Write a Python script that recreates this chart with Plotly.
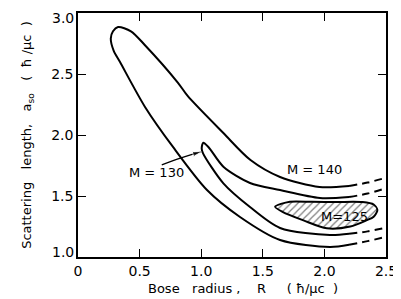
import plotly.graph_objects as go

# ---- data ----
# M = 140 contour (solid part): upper branch from right to tip, then lower branch back to right
m140_x = [2.20, 1.96, 1.64, 1.40, 1.18, 0.89, 0.81, 0.54, 0.43, 0.325, 0.284, 0.266, 0.29, 0.34, 0.544, 0.771, 1.047, 1.315, 1.64, 2.045, 2.20]
m140_y = [1.582, 1.574, 1.656, 1.795, 2.016, 2.32, 2.43, 2.74, 2.85, 2.885, 2.85, 2.79, 2.69, 2.60, 2.23, 1.902, 1.549, 1.328, 1.139, 1.082, 1.10]
# dashed extrapolations of M = 140
m140_up_dash_x = [2.20, 2.35, 2.50]
m140_up_dash_y = [1.582, 1.61, 1.65]
m140_lo_dash_x = [2.20, 2.35, 2.50]
m140_lo_dash_y = [1.10, 1.13, 1.165]

# M = 130 contour (solid part)
m130_x = [2.20, 1.964, 1.64, 1.396, 1.18, 1.06, 1.017, 1.004, 1.015, 1.18, 1.396, 1.64, 2.045, 2.20]
m130_y = [1.492, 1.484, 1.549, 1.607, 1.74, 1.90, 1.937, 1.89, 1.85, 1.604, 1.41, 1.238, 1.18, 1.19]
m130_up_dash_x = [2.20, 2.35, 2.50]
m130_up_dash_y = [1.492, 1.52, 1.565]
m130_lo_dash_x = [2.20, 2.35, 2.50]
m130_lo_dash_y = [1.19, 1.21, 1.24]

# M = 125 closed (hatched) region
m125_x = [1.60, 1.72, 1.90, 2.10, 2.31, 2.40, 2.43, 2.40, 2.34, 2.21, 2.02, 1.83, 1.66, 1.60]
m125_y = [1.412, 1.453, 1.452, 1.451, 1.45, 1.43, 1.385, 1.33, 1.30, 1.25, 1.235, 1.30, 1.37, 1.412]

# pointer from the "M = 130" label to its contour
arrow_x = [0.68, 0.80, 0.92, 1.0]
arrow_y = [1.755, 1.80, 1.84, 1.862]

x_ticks = [0, 0.5, 1.0, 1.5, 2.0, 2.5]
x_ticktext = ["0", "0.5", "1.0", "1.5", "2.0", "2.5"]
y_ticks = [1.0, 1.5, 2.0, 2.5, 3.0]
y_ticktext = ["1.0", "1.5", "2.0", "2.5", "3.0"]

labels = ["M = 140", "M=125", "M = 130"]
label_x = [1.92, 2.16, 0.64]
label_y = [1.715, 1.33, 1.69]

FONT = "DejaVu Sans"
NB = "\u00a0"
fig = go.Figure()

solid = dict(color="black", width=2)
dashed = dict(color="black", width=2, dash="8px,5px")

fig.add_trace(go.Scatter(x=m125_x, y=m125_y, mode="lines", line=dict(color="black", width=2, shape="spline", smoothing=0.8),
                         fill="toself", fillcolor="white",
                         fillpattern=dict(shape="/", fgcolor="black", bgcolor="white", size=5, solidity=0.25)))
fig.add_trace(go.Scatter(x=m140_x, y=m140_y, mode="lines", line=dict(**solid, shape="spline", smoothing=0.8)))
fig.add_trace(go.Scatter(x=m130_x, y=m130_y, mode="lines", line=dict(**solid, shape="spline", smoothing=0.8)))
for xs, ys in [(m140_up_dash_x, m140_up_dash_y), (m140_lo_dash_x, m140_lo_dash_y),
               (m130_up_dash_x, m130_up_dash_y), (m130_lo_dash_x, m130_lo_dash_y)]:
    fig.add_trace(go.Scatter(x=xs, y=ys, mode="lines", line=dict(**dashed, shape="spline")))

# arrow (line + arrowhead marker at its end)
fig.add_trace(go.Scatter(x=arrow_x, y=arrow_y, mode="lines+markers",
                         line=dict(color="black", width=1.3, shape="spline"),
                         marker=dict(symbol="arrow", size=[0, 0, 0, 9], color="black", angleref="previous")))

for t, lx, ly in zip(labels, label_x, label_y):
    fig.add_annotation(x=lx, y=ly, text=t, showarrow=False, font=dict(family=FONT, size=13, color="black"))

# y tick labels: the end labels sit a little inside the frame, as in the reference
inner = [(v, t) for v, t in zip(y_ticks, y_ticktext) if v not in (min(y_ticks), max(y_ticks))]
for v, t in zip(y_ticks, y_ticktext):
    if v in (min(y_ticks), max(y_ticks)):
        fig.add_annotation(x=0, xref="paper", y=v, yref="y", text=t, showarrow=False, xanchor="right",
                           xshift=-2, yshift=(-5 if v == max(y_ticks) else 5),
                           font=dict(family=FONT, size=14, color="black"))

# axis titles
x_title = ("Bose" + NB * 3 + "radius" + NB + "," + NB * 4 + "R" + NB * 5 + "(" + NB + "ħ" + "/" + "μc" + NB * 2 + ")")
y_title = ("Scattering" + NB * 3 + "length," + NB * 3 + "a<sub>so</sub>" + NB * 3 + "(" + NB * 2 + "ħ" + NB
           + "/" + "μc" + NB * 2 + ")")
fig.add_annotation(x=0.537, y=-0.131, xref="paper", yref="paper", xanchor="center", yanchor="middle",
                   text=x_title, showarrow=False, font=dict(family=FONT, size=13, color="black"))
fig.add_annotation(x=-0.166, y=0.5, xref="paper", yref="paper", xanchor="center", yanchor="middle",
                   text=y_title, textangle=-90, showarrow=False, font=dict(family=FONT, size=13, color="black"))

axis_common = dict(showgrid=False, zeroline=False, showline=True, linecolor="black", linewidth=1.5,
                   mirror="ticks", ticks="inside", ticklen=8, tickwidth=1.3, tickcolor="black",
                   ticklabeloverflow="allow", automargin=False,
                   tickfont=dict(family=FONT, size=14, color="black"))
fig.update_xaxes(range=[0, 2.5], tickvals=x_ticks, ticktext=x_ticktext, **axis_common)
fig.update_yaxes(range=[1, 3], tickvals=[v for v, _ in inner], ticktext=[t for _, t in inner], **axis_common)

fig.update_layout(width=393, height=291, margin=dict(l=70, r=15, t=5, b=42),
                  paper_bgcolor="white", plot_bgcolor="white", showlegend=False)

fig.write_html("out.html")
